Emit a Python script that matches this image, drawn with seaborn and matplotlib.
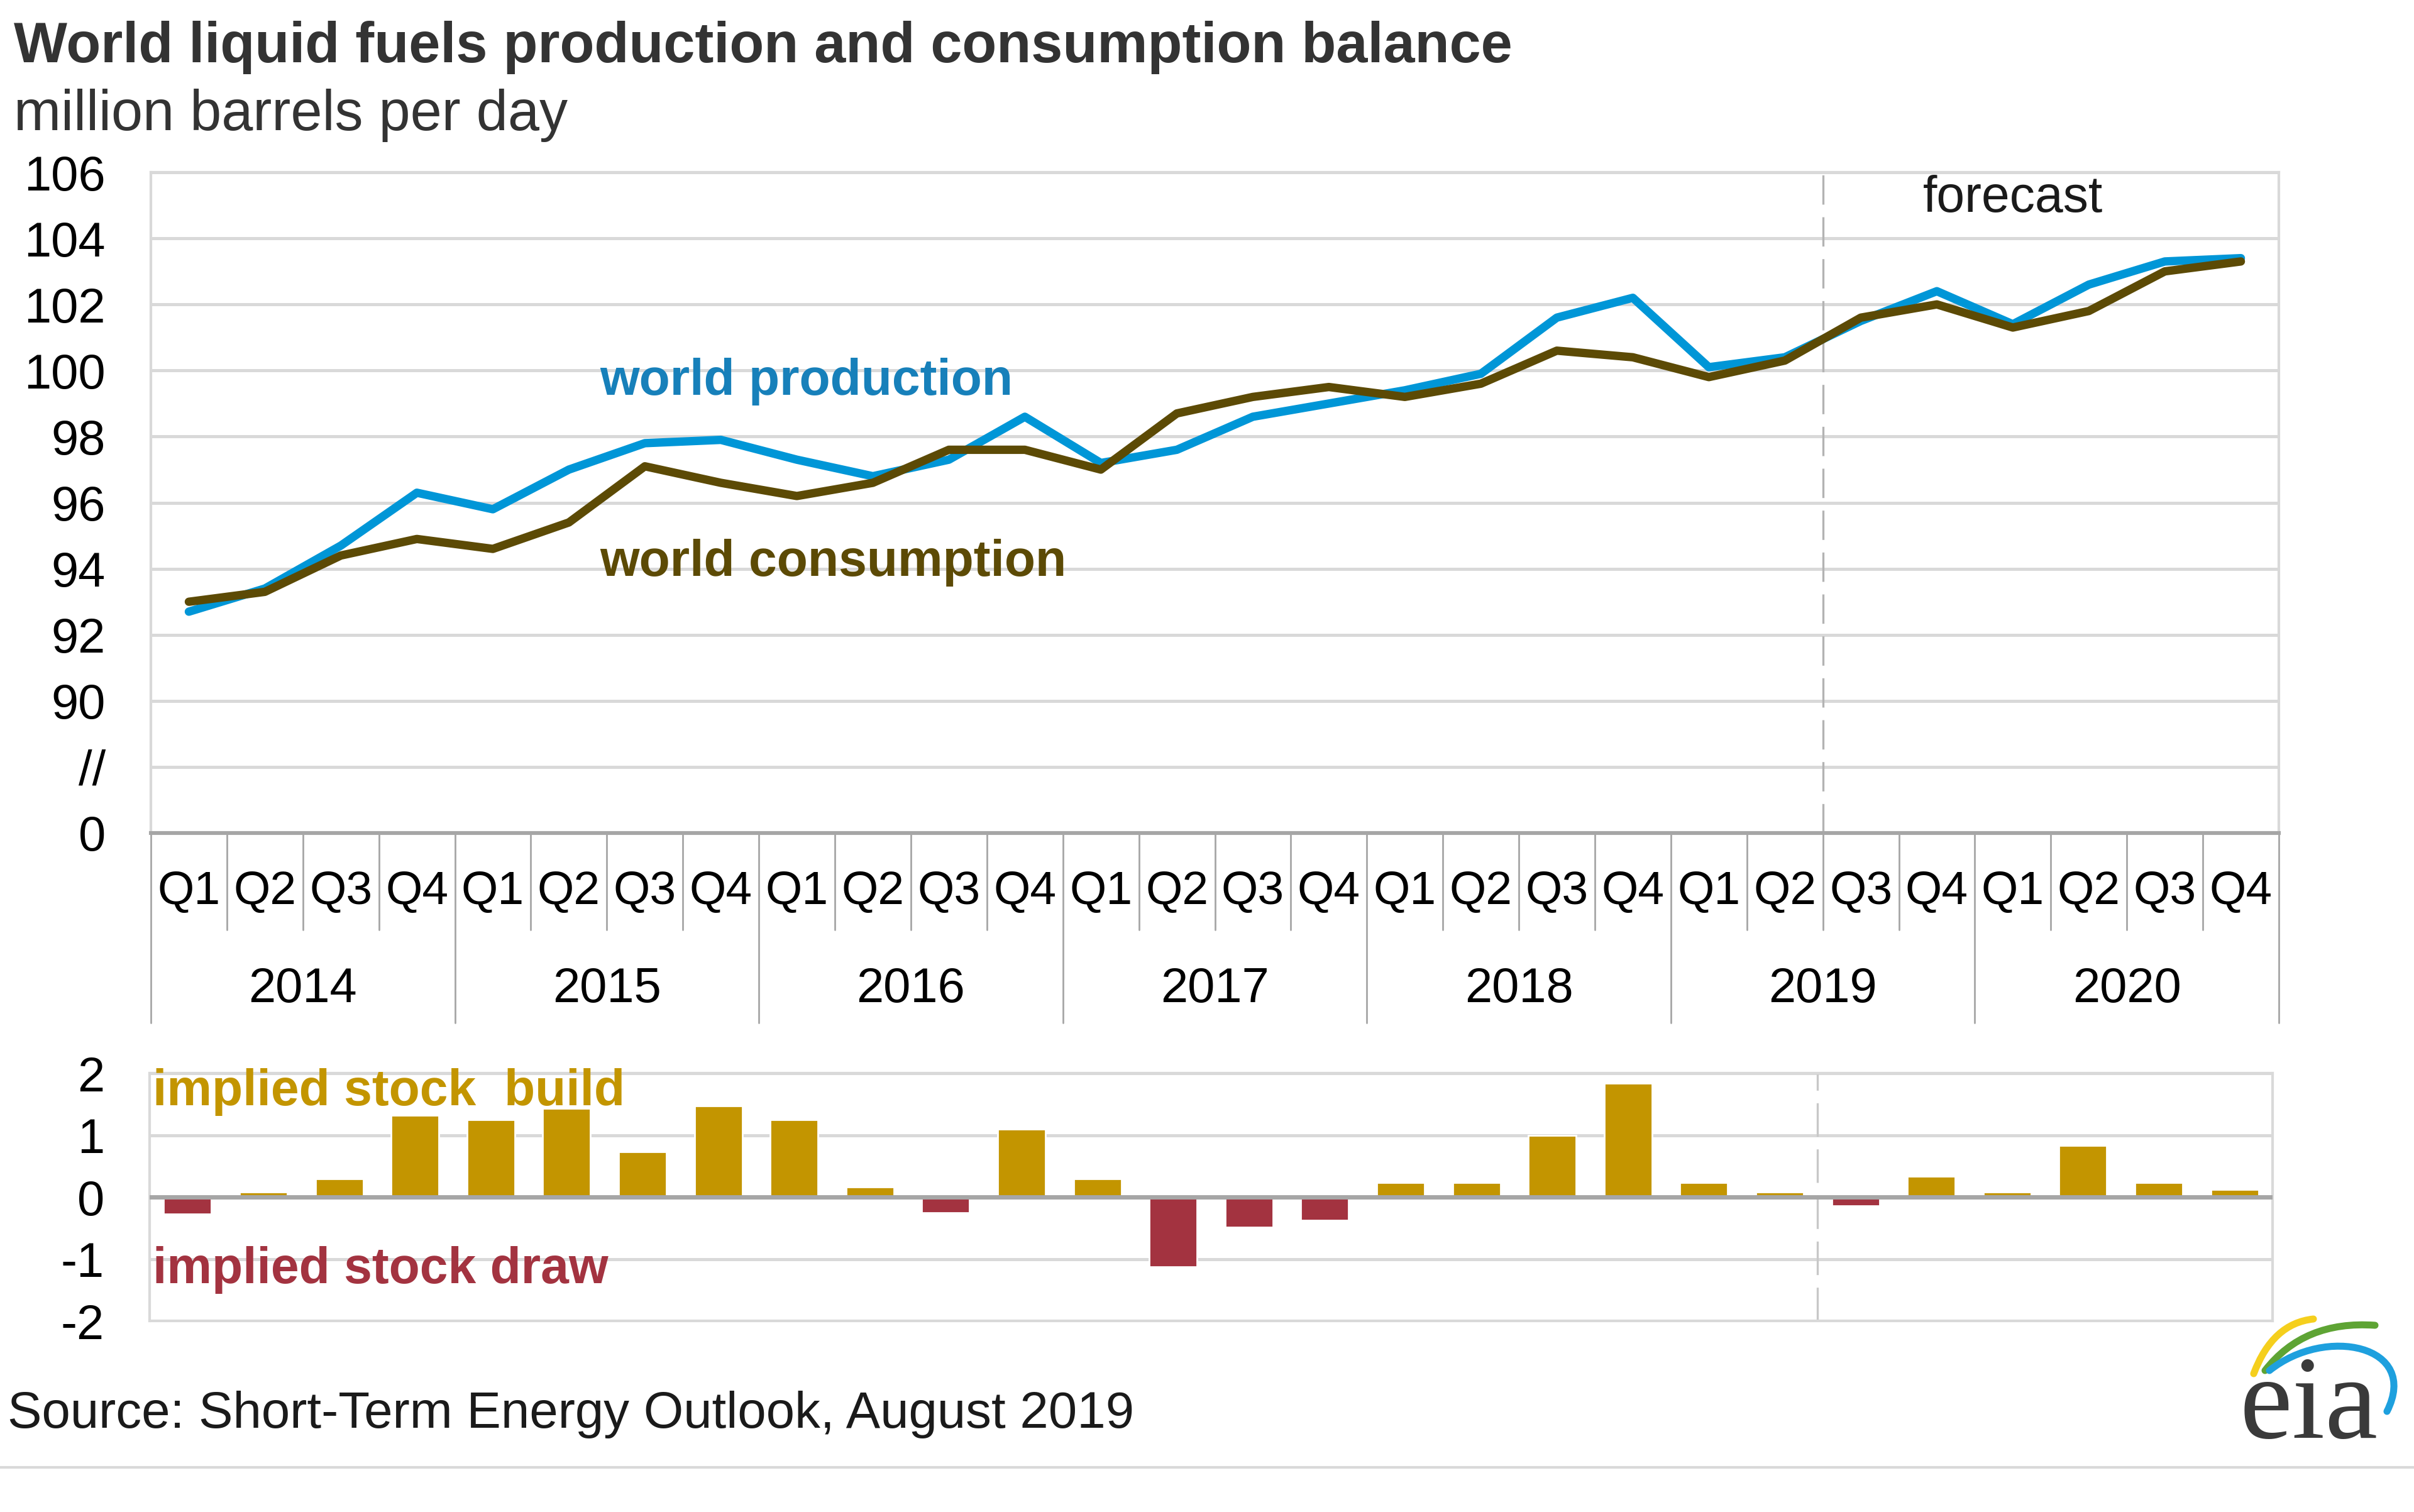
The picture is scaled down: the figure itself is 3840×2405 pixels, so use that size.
import numpy as np
import pandas as pd
import matplotlib
matplotlib.use("Agg")
import matplotlib.pyplot as plt
import matplotlib.transforms as mtransforms
from matplotlib.path import Path
from matplotlib.patches import PathPatch
from matplotlib.lines import Line2D
import seaborn as sns

# ---------------- data ----------------
years = ["2014", "2015", "2016", "2017", "2018", "2019", "2020"]
quarters = ["Q1", "Q2", "Q3", "Q4"]
production = [92.7, 93.4, 94.7, 96.3, 95.8, 97.0, 97.8, 97.9,
              97.3, 96.8, 97.3, 98.6, 97.2, 97.6, 98.6, 99.0,
              99.4, 99.9, 101.6, 102.2, 100.1, 100.4, 101.5, 102.4,
              101.4, 102.6, 103.3, 103.4]
consumption = [93.0, 93.3, 94.4, 94.9, 94.6, 95.4, 97.1, 96.6,
               96.2, 96.6, 97.6, 97.6, 97.0, 98.7, 99.2, 99.5,
               99.2, 99.6, 100.6, 100.4, 99.8, 100.3, 101.6, 102.0,
               101.3, 101.8, 103.0, 103.3]
stock_change = [-0.27, 0.08, 0.29, 1.32, 1.25, 1.43, 0.73, 1.47,
                1.25, 0.16, -0.25, 1.10, 0.29, -1.13, -0.49, -0.38,
                0.23, 0.23, 1.00, 1.84, 0.23, 0.08, -0.14, 0.33,
                0.08, 0.83, 0.23, 0.12]
top_ticks = [86, 88, 90, 92, 94, 96, 98, 100, 102, 104, 106]
top_ticklabels = ["0", "//", "90", "92", "94", "96", "98", "100", "102", "104", "106"]
bottom_ticks = [-2, -1, 0, 1, 2]
bottom_ticklabels = ["-2", "-1", "0", "1", "2"]
forecast_start = 21.5  # between 2019 Q2 and 2019 Q3

periods = [f"{y}{q}" for y in years for q in quarters]
idx = np.arange(len(periods))

# ---------------- style ----------------
PROD = "#0096d7"
PROD_TXT = "#1780ba"
CONS = "#5c4a05"
CONS_TXT = "#5c4a05"
BUILD = "#c39500"
DRAW = "#a33340"
GRID = "#d9d9d9"
AXIS = "#a6a6a6"

sns.set_theme(style="white")
plt.rcParams['font.family'] = ['Liberation Sans', 'DejaVu Sans']

W, H = 3840, 2405
DPI = 200
fig = plt.figure(figsize=(W / DPI, H / DPI), dpi=DPI)
fig.patch.set_facecolor("white")


def fx(px):
    return px / W


def fy(py):
    return 1 - py / H


# ---------------- top panel ----------------
ax1 = fig.add_axes([fx(240), fy(1325), fx(3625) - fx(240), fy(274) - fy(1325)])
df_lines = pd.DataFrame({
    "idx": np.concatenate([idx, idx]),
    "value": production + consumption,
    "series": ["production"] * len(idx) + ["consumption"] * len(idx),
})
sns.lineplot(data=df_lines, x="idx", y="value", hue="series",
             hue_order=["production", "consumption"],
             palette={"production": PROD, "consumption": CONS},
             linewidth=4.8, legend=False, errorbar=None, ax=ax1, zorder=3)
ax1.set_xlim(-0.5, len(idx) - 0.5)
ax1.set_ylim(86, 106)
ax1.set_yticks(top_ticks)
ax1.set_yticklabels(top_ticklabels, fontsize=28, color="black")
ax1.set_xticks([])
ax1.set_xlabel("")
ax1.set_ylabel("")
ax1.grid(axis="y", color=GRID, lw=1.8)
ax1.set_axisbelow(True)
ax1.tick_params(axis="y", length=0, pad=26)
for s in ["left", "right", "top"]:
    ax1.spines[s].set_color(GRID)
    ax1.spines[s].set_linewidth(1.5)
ax1.spines["bottom"].set_color(AXIS)
ax1.spines["bottom"].set_linewidth(2.2)
ax1.axvline(forecast_start, color="#b3b3b3", lw=1.2, ls=(0, (14, 6)), zorder=2)

trans = mtransforms.blended_transform_factory(ax1.transData, ax1.transAxes)
for i in idx:
    ax1.text(i, -0.0885, quarters[i % 4], transform=trans, ha="center", va="center",
             fontsize=27, color="black")
for b in np.arange(-0.5, len(idx), 1.0):
    year_edge = int(round(b + 0.5)) % 4 == 0
    ax1.add_line(Line2D([b, b], [0, -0.287 if year_edge else -0.1465], transform=trans,
                        color=AXIS, lw=1.0, clip_on=False))
for k, yr in enumerate(years):
    ax1.text(4 * k + 1.5, -0.236, yr, transform=trans, ha="center", va="center",
             fontsize=28, color="black")

ax1.text(24, 105.2, "forecast", ha="center", va="center", fontsize=29, color="#1a1a1a")
ax1.text(5.41, 99.66, "world production", ha="left", va="center", fontsize=29,
         fontweight="bold", color=PROD_TXT)
ax1.text(5.41, 94.19, "world consumption", ha="left", va="center", fontsize=29,
         fontweight="bold", color=CONS_TXT)

# ---------------- bottom panel ----------------
ax2 = fig.add_axes([fx(238), fy(2101), fx(3615) - fx(238), fy(1707) - fy(2101)])
df_bar = pd.DataFrame({
    "period": periods,
    "change": stock_change,
    "kind": ["build" if v >= 0 else "draw" for v in stock_change],
})
sns.barplot(data=df_bar, x="period", y="change", hue="kind", order=periods,
            hue_order=["build", "draw"], palette={"build": BUILD, "draw": DRAW},
            dodge=False, width=0.63, saturation=1, legend=False, ax=ax2, zorder=2)
ax2.set_xlim(-0.5, len(idx) - 0.5)
ax2.set_ylim(-2, 2)
ax2.set_yticks(bottom_ticks)
ax2.set_yticklabels(bottom_ticklabels, fontsize=28, color="black")
ax2.set_xticks([])
ax2.set_xlabel("")
ax2.set_ylabel("")
ax2.grid(axis="y", color=GRID, lw=1.8)
ax2.set_axisbelow(True)
ax2.tick_params(axis="y", length=0, pad=26)
for s in ["left", "right", "top", "bottom"]:
    ax2.spines[s].set_color(GRID)
    ax2.spines[s].set_linewidth(1.5)
ax2.axhline(0, color=AXIS, lw=2.5, zorder=4)
ax2.axvline(forecast_start, color="#c8c8c8", lw=1.2, ls=(0, (16, 6)), zorder=1)
ax2.text(-0.46, 1.7, "implied stock  build", ha="left", va="center", fontsize=29,
         fontweight="bold", color=BUILD)
ax2.text(-0.46, -1.18, "implied stock draw", ha="left", va="center", fontsize=29,
         fontweight="bold", color=DRAW)

# ---------------- figure texts ----------------
fig.text(fx(22), fy(76), "World liquid fuels production and consumption balance",
         ha="left", va="center", fontsize=32.4, fontweight="bold", color="#333333")
fig.text(fx(22), fy(183), "million barrels per day", ha="left", va="center",
         fontsize=32.4, color="#333333")
fig.text(fx(12), fy(2250), "Source: Short-Term Energy Outlook, August 2019",
         ha="left", va="center", fontsize=29.4, color="#1a1a1a")
fig.add_artist(Line2D([0, 1], [fy(2334), fy(2334)], color=GRID, lw=1.5,
                      transform=fig.transFigure))

# eia logo
pix = mtransforms.Affine2D().scale(1.0 / W, -1.0 / H).translate(0, 1) + fig.transFigure
fig.text(fx(3673), fy(2287), "eia", ha="center", va="baseline", fontsize=68,
         family=["Liberation Serif", "DejaVu Serif"], color="#3a3a3a")
arcs = [
    ([(3585, 2185), (3615, 2105), (3680, 2098)], [Path.MOVETO, Path.CURVE3, Path.CURVE3], "#f5cf1d"),
    ([(3603, 2180), (3665, 2100), (3778, 2108)], [Path.MOVETO, Path.CURVE3, Path.CURVE3], "#5ea434"),
    ([(3610, 2180), (3700, 2108), (3850, 2140), (3797, 2245)],
     [Path.MOVETO, Path.CURVE4, Path.CURVE4, Path.CURVE4], "#1ea0de"),
]
for verts, codes, col in arcs:
    fig.add_artist(PathPatch(Path(verts, codes), facecolor="none", edgecolor=col,
                             lw=4.0, transform=pix, capstyle="round"))

fig.savefig("out.png", dpi=DPI, facecolor="white")
